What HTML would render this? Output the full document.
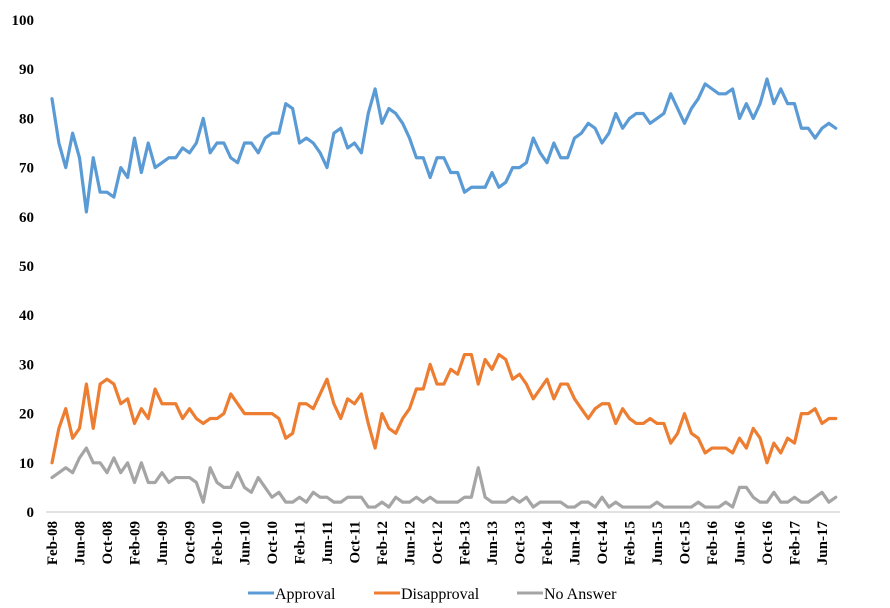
<!DOCTYPE html>
<html><head><meta charset="utf-8"><style>
html,body{margin:0;padding:0;background:#fff;}
svg{display:block;font-family:"Liberation Serif",serif;font-weight:bold;}
</style></head><body>
<svg id="chart" width="890" height="608" viewBox="0 0 890 608" xmlns="http://www.w3.org/2000/svg"></svg>
<script>
const approval=[84,75,70,77,72,61,72,65,65,64,70,68,76,69,75,70,71,72,72,74,73,75,80,73,75,75,72,71,75,75,73,76,77,77,83,82,75,76,75,73,70,77,78,74,75,73,81,86,79,82,81,79,76,72,72,68,72,72,69,69,65,66,66,66,69,66,67,70,70,71,76,73,71,75,72,72,76,77,79,78,75,77,81,78,80,81,81,79,80,81,85,82,79,82,84,87,86,85,85,86,80,83,80,83,88,83,86,83,83,78,78,76,78,79,78];
const disapproval=[10,17,21,15,17,26,17,26,27,26,22,23,18,21,19,25,22,22,22,19,21,19,18,19,19,20,24,22,20,20,20,20,20,19,15,16,22,22,21,24,27,22,19,23,22,24,18,13,20,17,16,19,21,25,25,30,26,26,29,28,32,32,26,31,29,32,31,27,28,26,23,25,27,23,26,26,23,21,19,21,22,22,18,21,19,18,18,19,18,18,14,16,20,16,15,12,13,13,13,12,15,13,17,15,10,14,12,15,14,20,20,21,18,19,19];
const noAnswer=[7,8,9,8,11,13,10,10,8,11,8,10,6,10,6,6,8,6,7,7,7,6,2,9,6,5,5,8,5,4,7,5,3,4,2,2,3,2,4,3,3,2,2,3,3,3,1,1,2,1,3,2,2,3,2,3,2,2,2,2,3,3,9,3,2,2,2,3,2,3,1,2,2,2,2,1,1,2,2,1,3,1,2,1,1,1,1,1,2,1,1,1,1,1,2,1,1,1,2,1,5,5,3,2,2,4,2,2,3,2,2,3,4,2,3];
const xLabels=["Feb-08","Jun-08","Oct-08","Feb-09","Jun-09","Oct-09","Feb-10","Jun-10","Oct-10","Feb-11","Jun-11","Oct-11","Feb-12","Jun-12","Oct-12","Feb-13","Jun-13","Oct-13","Feb-14","Jun-14","Oct-14","Feb-15","Jun-15","Oct-15","Feb-16","Jun-16","Oct-16","Feb-17","Jun-17"];
const yTicks=[0,10,20,30,40,50,60,70,80,90,100];
const seriesNames=["Approval","Disapproval","No Answer"];
const colors=["#5B9BD5","#ED7D31","#A5A5A5"];

const svg=document.getElementById('chart');
const NS="http://www.w3.org/2000/svg";
const x=i=>52+i*6.875;
const y=v=>512-v*4.92;
function mk(tag,attrs){const e=document.createElementNS(NS,tag);for(const k in attrs)e.setAttribute(k,attrs[k]);svg.appendChild(e);return e;}

const axis=mk('line',{x1:46,x2:840,y1:512,y2:512,stroke:'#d9d9d9','stroke-width':1.5});



yTicks.forEach(t=>{
  const tx=mk('text',{x:34,y:y(t)+5,'text-anchor':'end','font-size':15,fill:'#000'});
  tx.textContent=t;
  
  
});
xLabels.forEach((l,i)=>{
  const px=x(i*4);
  const tx=mk('text',{x:0,y:0,'text-anchor':'end','font-size':15,fill:'#000',transform:`translate(${px+5},521) rotate(-90)`});
  tx.textContent=l;
  
  
});

[approval,disapproval,noAnswer].forEach((s,k)=>{
  const p=mk('polyline',{points:s.map((v,i)=>x(i)+','+y(v)).join(' '),fill:'none',stroke:colors[k],'stroke-width':3.2,'stroke-linejoin':'round','stroke-linecap':'round'});
  
  
});

const legX=[248,374,517];
seriesNames.forEach((n,k)=>{
  const g=document.createElementNS(NS,'g');svg.appendChild(g);
  
  
  const l=document.createElementNS(NS,'line');
  l.setAttribute('x1',legX[k]);l.setAttribute('x2',legX[k]+26);l.setAttribute('y1',593);l.setAttribute('y2',593);
  l.setAttribute('stroke',colors[k]);l.setAttribute('stroke-width',3);
  g.appendChild(l);
  const t=document.createElementNS(NS,'text');
  t.setAttribute('x',legX[k]+27);t.setAttribute('y',599);t.setAttribute('font-size',16);t.setAttribute('font-weight','normal');
  t.textContent=n;g.appendChild(t);
});
</script>
</body></html>
